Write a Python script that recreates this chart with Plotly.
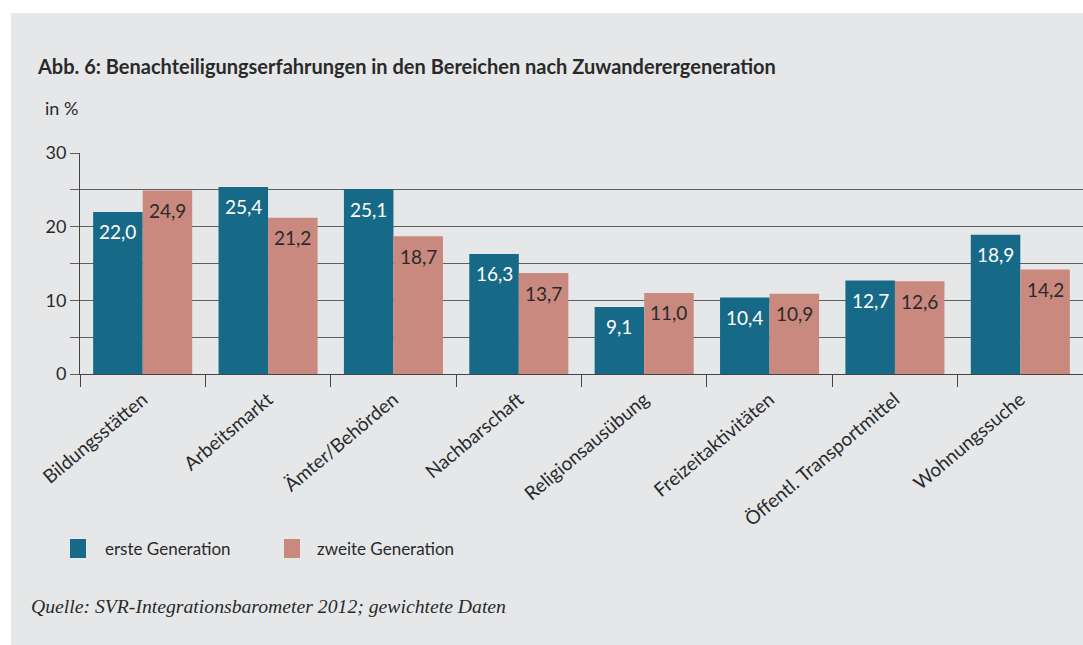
import plotly.graph_objects as go

categories = ["Bildungsstätten", "Arbeitsmarkt", "Ämter/Behörden", "Nachbarschaft",
              "Religionsausübung", "Freizeitaktivitäten", "Öffentl. Transportmittel", "Wohnungssuche"]
erste = [22.0, 25.4, 25.1, 16.3, 9.1, 10.4, 12.7, 18.9]
zweite = [24.9, 21.2, 18.7, 13.7, 11.0, 10.9, 12.6, 14.2]
series_names = ["erste Generation", "zweite Generation"]
y_ticks = [0, 10, 20, 30]

BLUE = "#176A87"
PINK = "#C9897E"
BG = "#E6E7E9"
TXT = "#2A2A2A"
GRID = "#5E5E5E"

W, H = 1083, 645
L, R, T, B = 80, 0, 153, 271
PW = W - L - R
PH = H - T - B

def px(x):
    return (x - L) / PW

def py(y):
    return (H - B - y) / PH

fig = go.Figure()
fig.add_trace(go.Bar(x=categories, y=erste, name=series_names[0], marker=dict(color=BLUE, line=dict(width=0))))
fig.add_trace(go.Bar(x=categories, y=zweite, name=series_names[1], marker=dict(color=PINK, line=dict(width=0))))

FONT = "Lato"
ann = []
for i, c in enumerate(categories):
    ann.append(dict(x=c, y=erste[i], xref="x", yref="y", text=f"{erste[i]:.1f}".replace(".", ","),
                    showarrow=False, xshift=-24.7, yshift=-20, yanchor="middle",
                    font=dict(family=FONT, size=19, color="white")))
    ann.append(dict(x=c, y=zweite[i], xref="x", yref="y", text=f"{zweite[i]:.1f}".replace(".", ","),
                    showarrow=False, xshift=24.7, yshift=-20, yanchor="middle",
                    font=dict(family=FONT, size=19, color=TXT)))

ann.append(dict(x=px(35), y=py(66), xref="paper", yref="paper", xanchor="left", yanchor="middle",
                text="<b>Abb. 6: Benachteiligungserfahrungen in den Bereichen nach Zuwanderergeneration</b>",
                showarrow=False, font=dict(family=FONT, size=20, color=TXT)))
ann.append(dict(x=px(43), y=py(108), xref="paper", yref="paper", xanchor="left", yanchor="middle",
                text="in %", showarrow=False, font=dict(family=FONT, size=18, color=TXT)))
ann.append(dict(x=px(103), y=py(548), xref="paper", yref="paper", xanchor="left", yanchor="middle",
                text=series_names[0], showarrow=False, font=dict(family=FONT, size=17, color=TXT)))
ann.append(dict(x=px(315), y=py(548), xref="paper", yref="paper", xanchor="left", yanchor="middle",
                text=series_names[1], showarrow=False, font=dict(family=FONT, size=17, color=TXT)))
ann.append(dict(x=px(29), y=py(606), xref="paper", yref="paper", xanchor="left", yanchor="middle",
                text="<i>Quelle: SVR-Integrationsbarometer 2012; gewichtete Daten</i>", showarrow=False,
                font=dict(family="Liberation Serif", size=19.7, color=TXT)))

shapes = [
    dict(type="rect", xref="paper", yref="paper", x0=px(11), x1=px(1090), y0=py(13), y1=py(650),
         fillcolor=BG, line=dict(width=0), layer="below"),
    dict(type="rect", xref="paper", yref="paper", x0=px(70), x1=px(86), y0=py(539), y1=py(558),
         fillcolor=BLUE, line=dict(width=0)),
    dict(type="rect", xref="paper", yref="paper", x0=px(284), x1=px(300), y0=py(539), y1=py(558),
         fillcolor=PINK, line=dict(width=0)),
]

fig.update_layout(
    width=W, height=H,
    margin=dict(l=L, r=R, t=T, b=B, pad=0),
    paper_bgcolor="white", plot_bgcolor="rgba(0,0,0,0)",
    barmode="group", bargap=0.21, bargroupgap=0,
    showlegend=False,
    annotations=ann, shapes=shapes,
    font=dict(family=FONT, size=17, color=TXT),
)
fig.update_xaxes(
    type="category", tickson="boundaries", ticks="outside", ticklen=12, tickcolor="#444",
    tickwidth=1, showline=True, linecolor="#444", linewidth=1.2, showgrid=False,
    tickangle=-40, tickfont=dict(family=FONT, size=19, color=TXT), ticklabelstandoff=6,
)
fig.update_yaxes(
    range=[0, 30], tickvals=y_ticks, ticks="outside", ticklen=9, tickcolor=GRID, tickwidth=1.4,
    showline=True, linecolor="#444", linewidth=1,
    showgrid=True, gridcolor=GRID, gridwidth=1.4, zeroline=False,
    minor=dict(dtick=5, tick0=0, ticks="outside", ticklen=9, tickcolor=GRID, tickwidth=1.4,
               showgrid=True, gridcolor=GRID, gridwidth=1.4),
    tickfont=dict(family=FONT, size=18, color=TXT),
)

fig.write_html("out.html", config={"displayModeBar": False},
               post_script="document.body.style.margin='0';")
